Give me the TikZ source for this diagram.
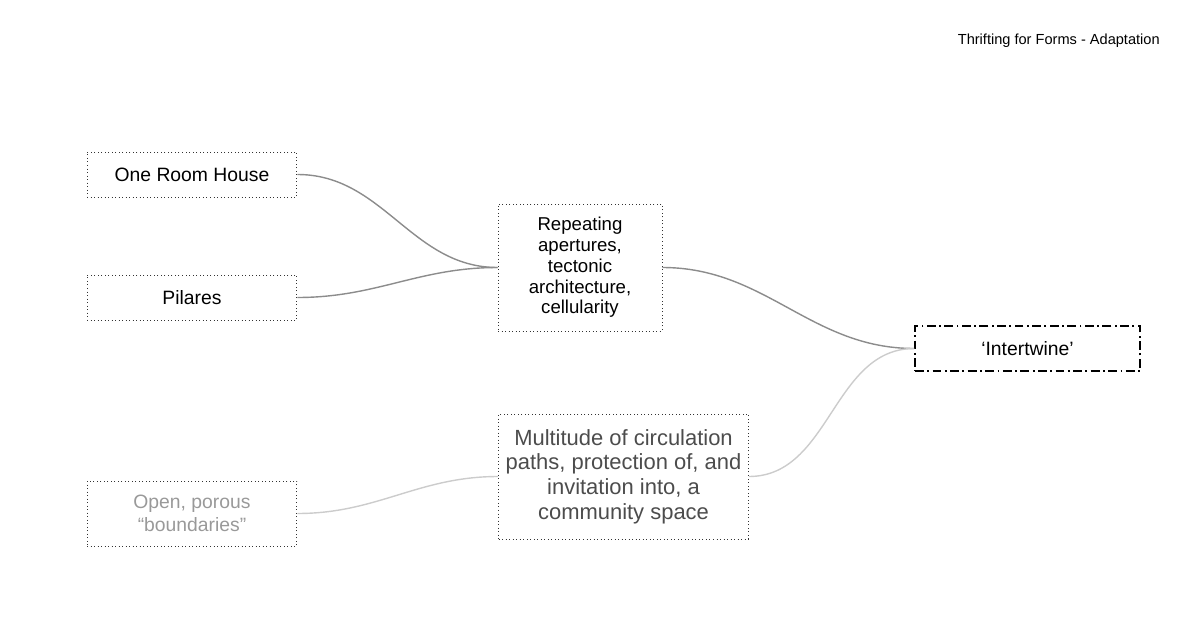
\documentclass[tikz,border=0pt]{standalone}
\usepackage{fontspec}
\setmainfont{Liberation Sans}
\usetikzlibrary{positioning}

\begin{document}
\begin{tikzpicture}[x=0.02cm, y=-0.02cm,
  every node/.style={font=\fontsize{11}{13}\selectfont},
  idea/.style={rectangle, draw=black!80, line width=0.55pt, dash pattern=on 0.55pt off 1.45pt, align=center, minimum width=4.2cm, minimum height=0.9cm, inner sep=4pt},
  goal/.style={rectangle, draw=black, line width=0.9pt, dash pattern=on 5pt off 2pt on 1pt off 2pt, align=center, minimum width=4.5cm, minimum height=0.9cm},
  link/.style={line width=0.8pt, draw=black!45},
  faint/.style={line width=0.8pt, draw=black!20}]
\useasboundingbox (0,0) rectangle (1200,639);
\node[anchor=base east, inner sep=0pt, font=\fontsize{8.3}{10}\selectfont] (title) at (1160,44) {Thrifting for Forms - Adaptation};
\node[idea] (house) at (192,174.5) {One Room House};
\node[idea] (pilares) at (192,297.5) {Pilares};
\node[idea, minimum height=1.3cm, text=black!40] (porous) at (192,513.5) {Open, porous\\“boundaries”};
\node[idea, minimum width=3.28cm, minimum height=2.54cm, font=\fontsize{10.6}{11.8}\selectfont] (reps) at (580,267.5) {Repeating\\apertures,\\tectonic\\architecture,\\cellularity};
\node[idea, minimum width=4.98cm, minimum height=2.5cm, text=black!70, font=\fontsize{12.5}{14}\selectfont] (paths) at (623.5,476.5) {Multitude of circulation\\paths, protection of, and\\invitation into, a\\community space};
\node[goal] (twine) at (1027.5,348.5) {‘Intertwine’};
% connectors
\draw[link] (house.east) to[out=0, in=180] (reps.west);
\draw[link] (pilares.east) to[out=0, in=180] (reps.west);
\draw[link] (reps.east) to[out=0, in=180] (twine.west);
\draw[faint] (porous.east) to[out=0, in=180] (paths.west);
\draw[faint] (paths.east) to[out=0, in=180] (twine.west);
\end{tikzpicture}
\end{document}
